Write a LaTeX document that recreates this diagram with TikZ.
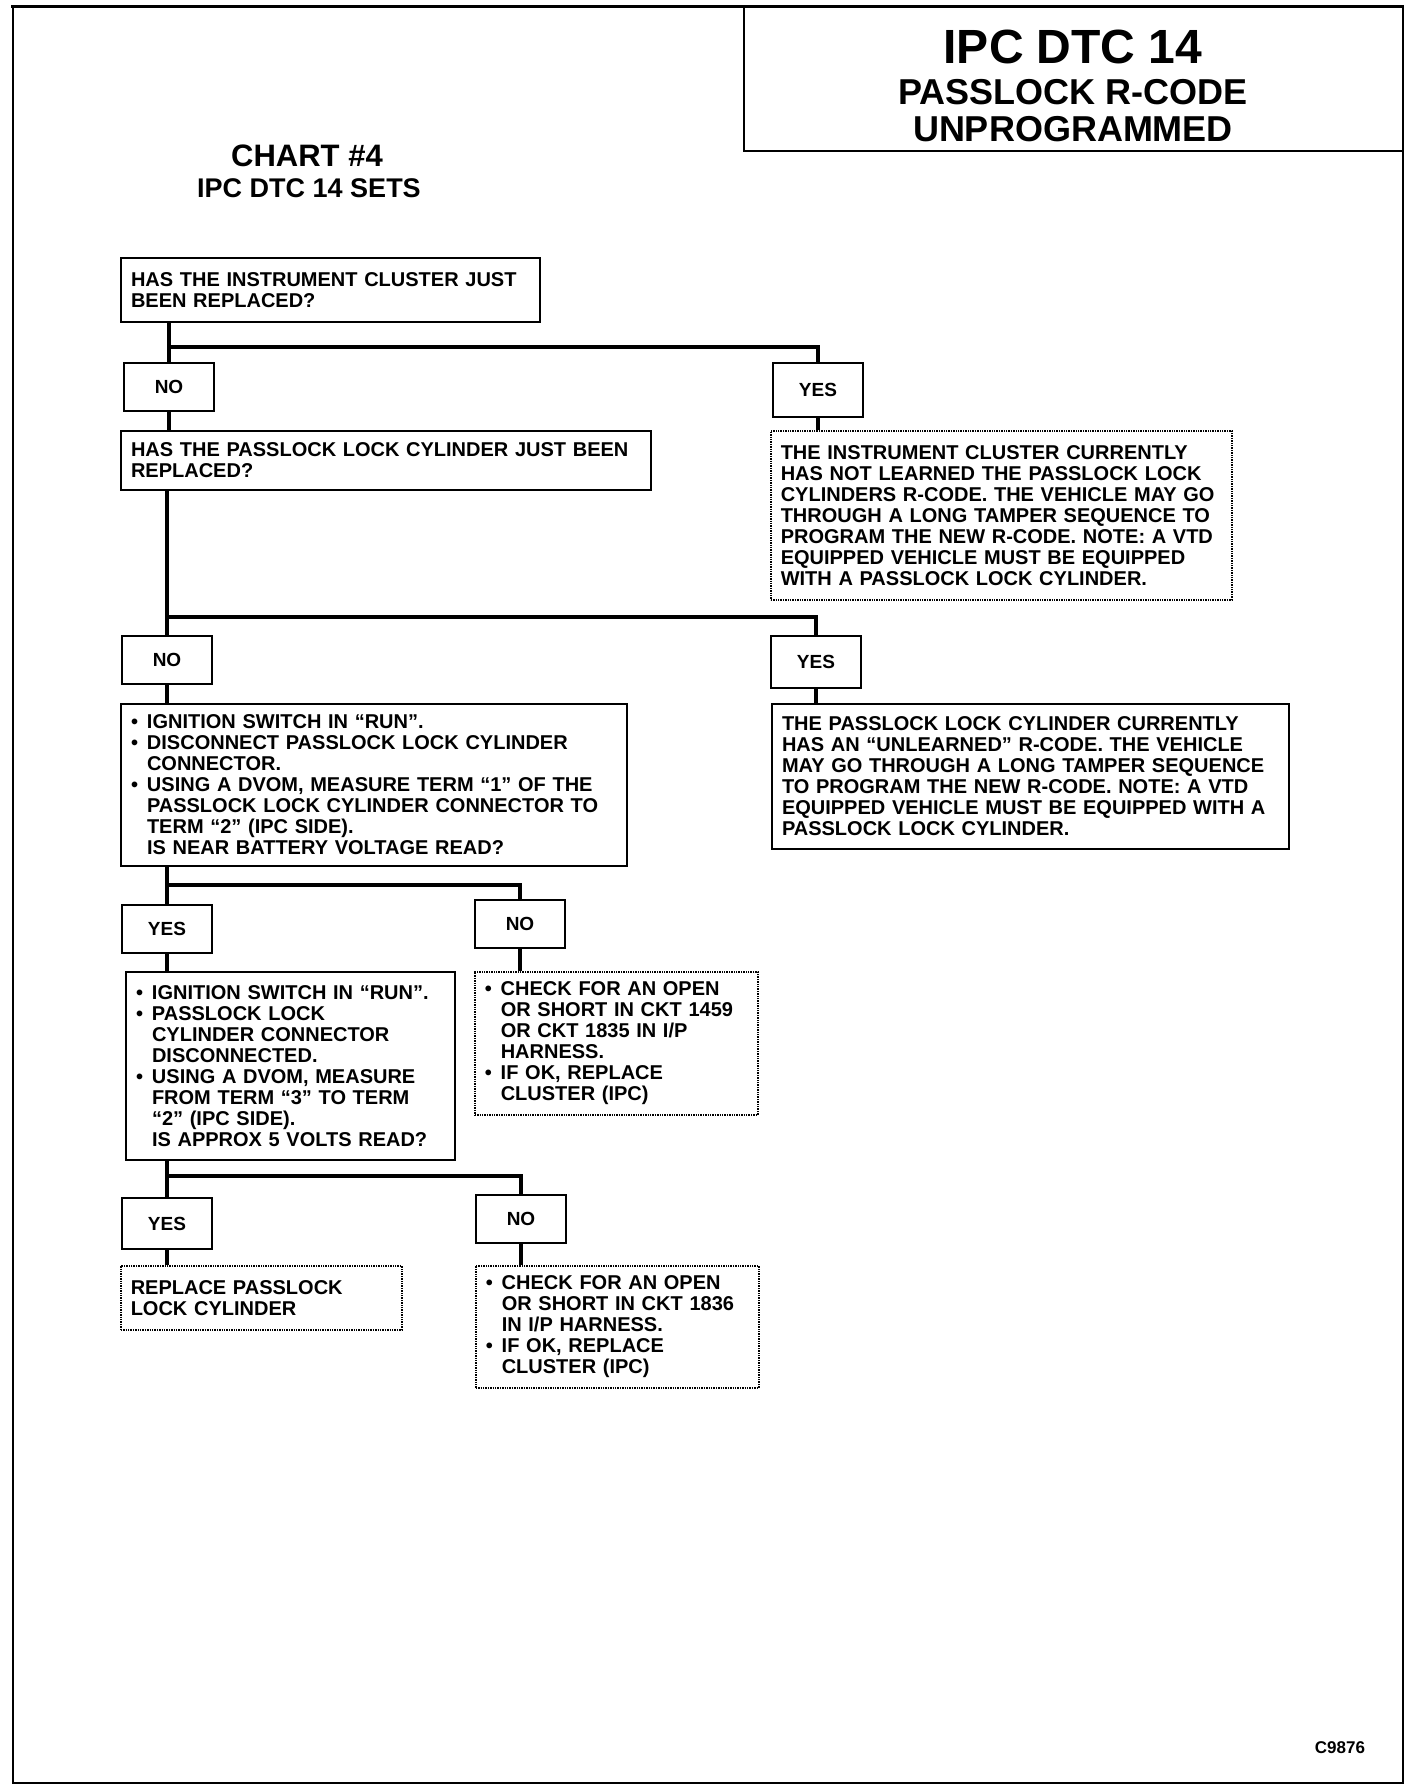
\documentclass[tikz,border=0pt]{standalone}
\usepackage{fontspec}
\setmainfont{Liberation Sans}
\usepackage{tikz}
\usetikzlibrary{positioning}
\newcommand{\bulletpt}{\makebox[16pt][l]{\textbullet}}
\newcommand{\indentpt}{\hspace*{16pt}}

\begin{document}
\begin{tikzpicture}[
    x=1pt, y=-1pt,
    qbox/.style={rectangle, draw, line width=2pt, align=left, anchor=north west, inner xsep=10pt, inner ysep=10pt, font=\fontsize{20}{21}\selectfont\bfseries},
    note/.style={qbox, line width=1.5pt, dash pattern=on 1.4pt off 1pt},
    yn/.style={rectangle, draw, line width=2pt, anchor=north west, minimum width=90pt, minimum height=48pt, font=\fontsize{19}{21}\selectfont\bfseries},
    flow/.style={line width=4.5pt},
]
\useasboundingbox (0,0) rectangle (1424,1792);

\draw[line width=3pt] (11,6) -- (1404,6);
\draw[line width=2pt] (13,6) -- (13,1783) -- (1403,1783) -- (1403,6);
\draw[line width=2.5pt] (744,6) -- (744,151) -- (1403,151);

\node[anchor=base, font=\fontsize{48}{50}\selectfont\bfseries] (title) at (1073,63) {IPC DTC 14};
\node[anchor=base, font=\fontsize{36}{38}\selectfont\bfseries] (subtitle) at (1073,104) {PASSLOCK R-CODE};
\node[anchor=base, font=\fontsize{36}{38}\selectfont\bfseries] (subtitle2) at (1073,141) {UNPROGRAMMED};
\node[anchor=base, font=\fontsize{31}{33}\selectfont\bfseries] (chart) at (307,166) {CHART \#4};
\node[anchor=base, font=\fontsize{27}{29}\selectfont\bfseries] (sets) at (309,197) {IPC DTC 14 SETS};

\node[qbox, text width=399pt, minimum height=64pt] (q1) at (120,257) {HAS THE INSTRUMENT CLUSTER JUST\\BEEN REPLACED?};
\node[yn] (no1) at (123,362) {NO};
\node[yn, minimum height=54pt] (yes1) at (772,362) {YES};
\node[qbox, text width=510pt, minimum height=59pt] (q2) at (120,430) {HAS THE PASSLOCK LOCK CYLINDER JUST BEEN\\REPLACED?};
\node[note, text width=441pt, minimum height=169pt] (notea) at (770,430) {THE INSTRUMENT CLUSTER CURRENTLY\\HAS NOT LEARNED THE PASSLOCK LOCK\\CYLINDERS R-CODE. THE VEHICLE MAY GO\\THROUGH A LONG TAMPER SEQUENCE TO\\PROGRAM THE NEW R-CODE. NOTE: A VTD\\EQUIPPED VEHICLE MUST BE EQUIPPED\\WITH A PASSLOCK LOCK CYLINDER.};

\node[yn] (no2) at (121,635) {NO};
\node[yn, minimum height=52pt] (yes2) at (770,635) {YES};
\node[qbox, text width=486pt, minimum height=162pt] (q3) at (120,703) {\bulletpt IGNITION SWITCH IN ``RUN''.\\\bulletpt DISCONNECT PASSLOCK LOCK CYLINDER\\\indentpt CONNECTOR.\\\bulletpt USING A DVOM, MEASURE TERM ``1'' OF THE\\\indentpt PASSLOCK LOCK CYLINDER CONNECTOR TO\\\indentpt TERM ``2'' (IPC SIDE).\\\indentpt IS NEAR BATTERY VOLTAGE READ?};
\node[qbox, text width=497pt, minimum height=145pt] (noteb) at (771,703) {THE PASSLOCK LOCK CYLINDER CURRENTLY\\HAS AN ``UNLEARNED'' R-CODE. THE VEHICLE\\MAY GO THROUGH A LONG TAMPER SEQUENCE\\TO PROGRAM THE NEW R-CODE. NOTE: A VTD\\EQUIPPED VEHICLE MUST BE EQUIPPED WITH A\\PASSLOCK LOCK CYLINDER.};

\node[yn] (yes3) at (121,904) {YES};
\node[yn] (no3) at (474,899) {NO};
\node[qbox, text width=309pt, minimum height=188pt] (q4) at (125,971) {\bulletpt IGNITION SWITCH IN ``RUN''.\\\bulletpt PASSLOCK LOCK\\\indentpt CYLINDER CONNECTOR\\\indentpt DISCONNECTED.\\\bulletpt USING A DVOM, MEASURE\\\indentpt FROM TERM ``3'' TO TERM\\\indentpt ``2'' (IPC SIDE).\\\indentpt IS APPROX 5 VOLTS READ?};
\node[note, text width=263pt, minimum height=143pt] (notec) at (474,971) {\bulletpt CHECK FOR AN OPEN\\\indentpt OR SHORT IN CKT 1459\\\indentpt OR CKT 1835 IN I/P\\\indentpt HARNESS.\\\bulletpt IF OK, REPLACE\\\indentpt CLUSTER (IPC)};

\node[yn, minimum height=51pt] (yes4) at (121,1197) {YES};
\node[yn] (no4) at (475,1194) {NO};
\node[note, text width=261pt, minimum height=64pt] (noted) at (120,1265) {REPLACE PASSLOCK\\LOCK CYLINDER};
\node[note, text width=263pt, minimum height=121pt] (notee) at (475,1265) {\bulletpt CHECK FOR AN OPEN\\\indentpt OR SHORT IN CKT 1836\\\indentpt IN I/P HARNESS.\\\bulletpt IF OK, REPLACE\\\indentpt CLUSTER (IPC)};

\node[font=\fontsize{17}{19}\selectfont\bfseries] (fig) at (1340,1748) {C9876};

\draw[flow] (q1.south -| no1.north) -- (no1.north);
\draw[flow] ([yshift=15pt]no1.north) -| (yes1.north);
\draw[flow] (no1.south) -- (no1.south |- q2.north);
\draw[flow] (yes1.south) -- (yes1.south |- notea.north);

\draw[flow] (q2.south -| no2.north) -- (no2.north);
\draw[flow] ([yshift=18pt]no2.north) -| (yes2.north);
\draw[flow] (no2.south) -- (no2.south |- q3.north);
\draw[flow] (yes2.south) -- (yes2.south |- noteb.north);

\draw[flow] (q3.south -| yes3.north) -- (yes3.north);
\draw[flow] ([yshift=19pt]yes3.north) -| (no3.north);
\draw[flow] (yes3.south) -- (yes3.south |- q4.north);
\draw[flow] (no3.south) -- (no3.south |- notec.north);

\draw[flow] (q4.south -| yes4.north) -- (yes4.north);
\draw[flow] ([yshift=21pt]yes4.north) -| (no4.north);
\draw[flow] (yes4.south) -- (yes4.south |- noted.north);
\draw[flow] (no4.south) -- (no4.south |- notee.north);

\end{tikzpicture}
\end{document}
